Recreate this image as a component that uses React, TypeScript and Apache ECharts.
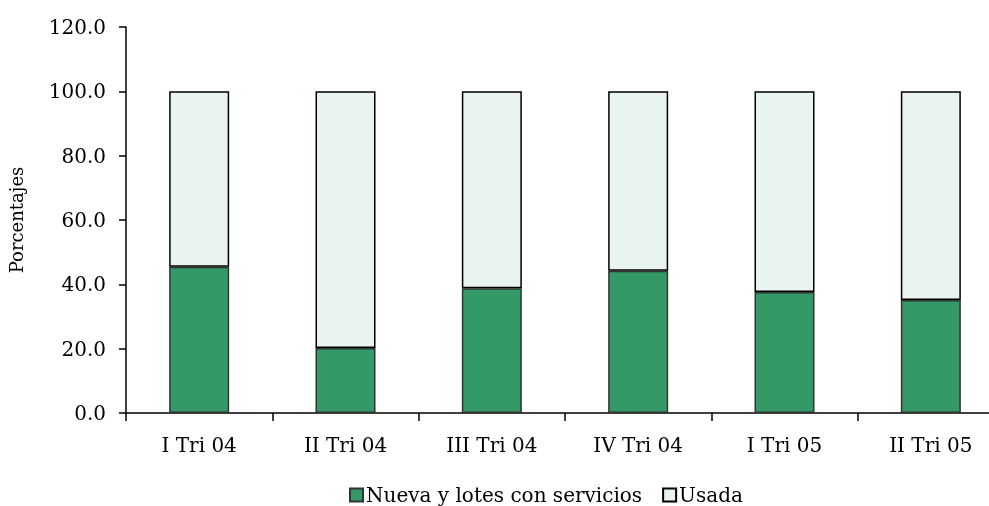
import React, { useEffect, useRef } from "react";
import * as echarts from "echarts";

const categories = ["I Tri 04", "II Tri 04", "III Tri 04", "IV Tri 04", "I Tri 05", "II Tri 05"];
const nueva = [45.5, 20.2, 38.8, 44.2, 37.6, 35.1];
const usada = [54.5, 79.8, 61.2, 55.8, 62.4, 64.9];

const FONT = "DejaVu Serif";

export default function App() {
  const ref = useRef<HTMLDivElement>(null);
  useEffect(() => {
    const chart = echarts.init(ref.current!, null, { renderer: "svg" });
    chart.setOption({
      animation: false,
      textStyle: { fontFamily: FONT, color: "#000" },
      grid: {
        left: 126,
        width: 878,
        top: 27,
        height: 386,
        containLabel: false,
        outerBoundsMode: "none",
      },
      legend: {
        top: 485,
        left: 349,
        itemWidth: 13,
        itemHeight: 13,
        itemGap: 20,
        icon: "rect",
        padding: 0,
        textStyle: { fontFamily: FONT, fontSize: 20, color: "#000", padding: [0, 0, 0, -2] },
        data: ["Nueva y lotes con servicios", "Usada"],
      },
      xAxis: {
        type: "category",
        data: categories,
        axisLine: { lineStyle: { color: "#000", width: 1.5 } },
        axisTick: { show: true, length: 8, inside: false, lineStyle: { color: "#000", width: 1.5 } },
        axisLabel: { margin: 22, fontFamily: FONT, fontSize: 20, color: "#000" },
      },
      yAxis: {
        type: "value",
        min: 0,
        max: 120,
        interval: 20,
        name: "Porcentajes",
        nameLocation: "middle",
        nameGap: 101,
        nameRotate: 90,
        nameTextStyle: { fontFamily: FONT, fontSize: 18, color: "#000" },
        axisLine: { show: true, lineStyle: { color: "#000", width: 1.5 } },
        axisTick: { show: true, length: 7, lineStyle: { color: "#000", width: 1.5 } },
        splitLine: { show: false },
        axisLabel: {
          margin: 20,
          fontFamily: FONT,
          fontSize: 20,
          color: "#000",
          formatter: (v: number) => v.toFixed(1),
        },
      },
      series: [
        {
          name: "Nueva y lotes con servicios",
          type: "bar",
          stack: "total",
          data: nueva,
          barWidth: 60,
          itemStyle: { color: "#339966", borderColor: "#333", borderWidth: 1.5 },
        },
        {
          name: "Usada",
          type: "bar",
          stack: "total",
          data: usada,
          barWidth: 60,
          itemStyle: { color: "#EAF4EE", borderColor: "#000", borderWidth: 1.5 },
        },
      ],
    });
    return () => chart.dispose();
  }, []);
  return (
    <div
      ref={ref}
      style={{ position: "fixed", left: 0, top: 0, width: 989, height: 506, overflow: "hidden" }}
    />
  );
}
